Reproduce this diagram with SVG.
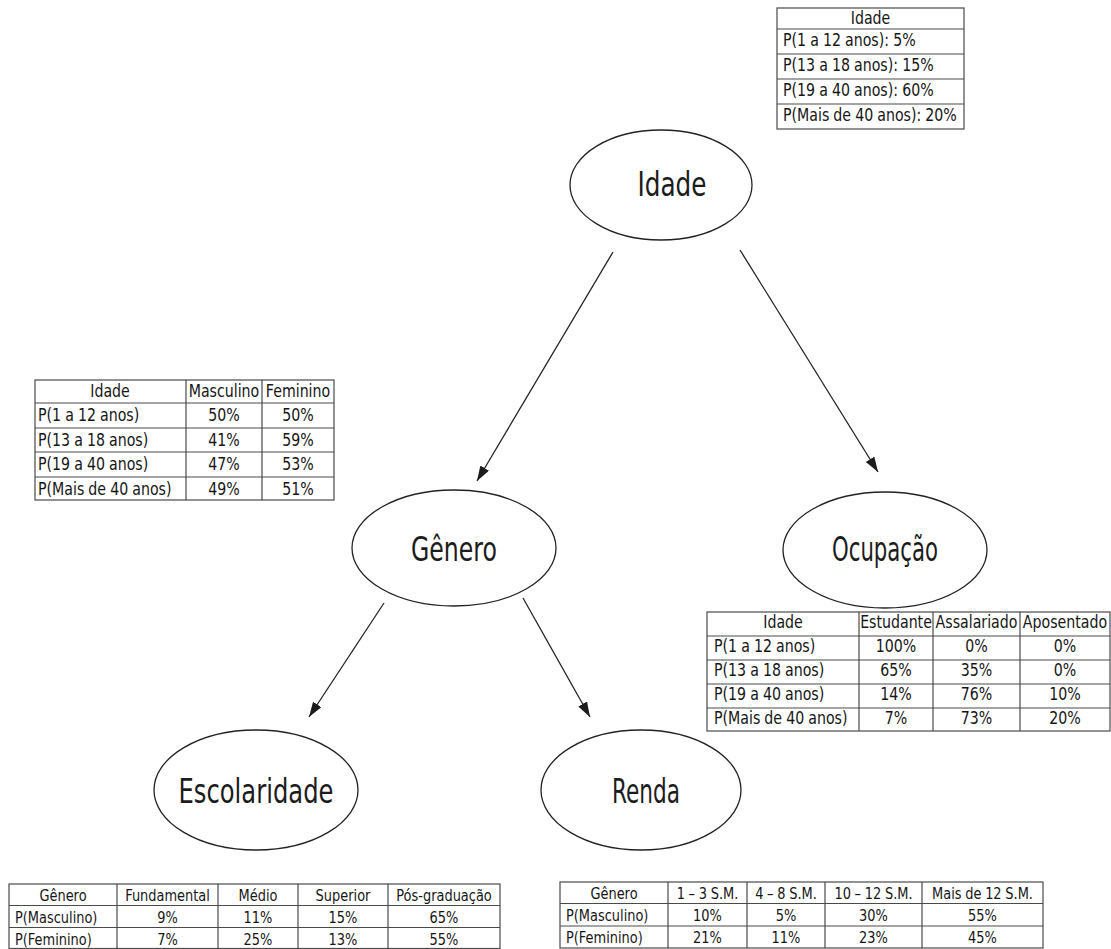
<svg xmlns="http://www.w3.org/2000/svg" width="1111" height="949" viewBox="0 0 1111 949">
  <style>
    .node ellipse { fill: #ffffff; stroke: #222222; stroke-width: 1.3; }
    .label { font-family: "DejaVu Sans", "Liberation Sans", sans-serif; font-size: 33px; fill: #1c1c1c; text-anchor: middle; }
    .tbl rect { fill: #ffffff; stroke: #4a4a4a; stroke-width: 1.2; }
    .tbl line { stroke: #4a4a4a; stroke-width: 1.2; }
    .tbl text { font-family: "DejaVu Sans", "Liberation Sans", sans-serif; font-size: 17.5px; word-spacing: -0.5px; fill: #161616; }
    .tbl.sm text { font-size: 16px; }
    .tbl .c { text-anchor: middle; }
    .edges line { stroke: #222222; stroke-width: 1.3; marker-end: url(#arrow); }
  </style>
  <defs>
    <marker id="arrow" markerUnits="userSpaceOnUse" markerWidth="16" markerHeight="11" refX="15" refY="5" orient="auto">
      <path d="M0,0 L15,5 L0,10 z" fill="#1c1c1c"/>
    </marker>
  </defs>

  <rect width="1111" height="949" fill="#ffffff"/>

  <!-- connectors -->
  <g id="edges" class="edges">
    <line x1="613" y1="252" x2="477" y2="481"/>
    <line x1="740" y1="250" x2="878" y2="472"/>
    <line x1="384" y1="603" x2="309" y2="717"/>
    <line x1="523" y1="598" x2="590" y2="717"/>
  </g>

  <!-- nodes -->
  <g id="node-idade" class="node">
    <ellipse cx="661" cy="185" rx="91" ry="55"/>
    <text class="label" x="672" y="196" textLength="69" lengthAdjust="spacingAndGlyphs">Idade</text>
  </g>
  <g id="node-genero" class="node">
    <ellipse cx="454" cy="548" rx="102" ry="58"/>
    <text class="label" x="454" y="561" textLength="86" lengthAdjust="spacingAndGlyphs">Gênero</text>
  </g>
  <g id="node-ocupacao" class="node">
    <ellipse cx="885" cy="550" rx="102" ry="58"/>
    <text class="label" x="885" y="561" textLength="106" lengthAdjust="spacingAndGlyphs">Ocupação</text>
  </g>
  <g id="node-escolaridade" class="node">
    <ellipse cx="256" cy="790" rx="102" ry="60"/>
    <text class="label" x="256" y="803" textLength="155" lengthAdjust="spacingAndGlyphs">Escolaridade</text>
  </g>
  <g id="node-renda" class="node">
    <ellipse cx="641" cy="790" rx="100" ry="60"/>
    <text class="label" x="646" y="803" textLength="68" lengthAdjust="spacingAndGlyphs">Renda</text>
  </g>

  <!-- probability table: Idade -->
  <g id="table-idade" class="tbl">
    <rect x="777" y="8" width="187" height="121"/>
    <line x1="777" y1="29" x2="964" y2="29"/>
    <line x1="777" y1="54" x2="964" y2="54"/>
    <line x1="777" y1="79" x2="964" y2="79"/>
    <line x1="777" y1="104" x2="964" y2="104"/>
    <text class="c" transform="translate(870.5 24) scale(0.81 1)">Idade</text>
    <text transform="translate(783 46) scale(0.81 1)">P(1 a 12 anos): 5%</text>
    <text transform="translate(783 71) scale(0.81 1)">P(13 a 18 anos): 15%</text>
    <text transform="translate(783 96) scale(0.81 1)">P(19 a 40 anos): 60%</text>
    <text transform="translate(783 121) scale(0.81 1)">P(Mais de 40 anos): 20%</text>
  </g>

  <!-- probability table: Gênero given Idade -->
  <g id="table-genero" class="tbl">
    <rect x="35" y="380" width="299" height="120"/>
    <line x1="35" y1="403" x2="334" y2="403"/>
    <line x1="35" y1="428" x2="334" y2="428"/>
    <line x1="35" y1="452" x2="334" y2="452"/>
    <line x1="35" y1="477" x2="334" y2="477"/>
    <line x1="186" y1="380" x2="186" y2="500"/>
    <line x1="262" y1="380" x2="262" y2="500"/>
    <text class="c" transform="translate(110 397) scale(0.81 1)">Idade</text>
    <text class="c" transform="translate(224 397) scale(0.81 1)">Masculino</text>
    <text class="c" transform="translate(298 397) scale(0.81 1)">Feminino</text>
    <text transform="translate(38 421) scale(0.81 1)">P(1 a 12 anos)</text>
    <text class="c" transform="translate(224 421) scale(0.81 1)">50%</text>
    <text class="c" transform="translate(298 421) scale(0.81 1)">50%</text>
    <text transform="translate(38 446) scale(0.81 1)">P(13 a 18 anos)</text>
    <text class="c" transform="translate(224 446) scale(0.81 1)">41%</text>
    <text class="c" transform="translate(298 446) scale(0.81 1)">59%</text>
    <text transform="translate(38 470) scale(0.81 1)">P(19 a 40 anos)</text>
    <text class="c" transform="translate(224 470) scale(0.81 1)">47%</text>
    <text class="c" transform="translate(298 470) scale(0.81 1)">53%</text>
    <text transform="translate(38 495) scale(0.81 1)">P(Mais de 40 anos)</text>
    <text class="c" transform="translate(224 495) scale(0.81 1)">49%</text>
    <text class="c" transform="translate(298 495) scale(0.81 1)">51%</text>
  </g>

  <!-- probability table: Ocupação given Idade -->
  <g id="table-ocupacao" class="tbl">
    <rect x="707" y="612" width="403" height="119"/>
    <line x1="707" y1="636" x2="1110" y2="636"/>
    <line x1="707" y1="660" x2="1110" y2="660"/>
    <line x1="707" y1="684" x2="1110" y2="684"/>
    <line x1="707" y1="708" x2="1110" y2="708"/>
    <line x1="859" y1="612" x2="859" y2="731"/>
    <line x1="933" y1="612" x2="933" y2="731"/>
    <line x1="1020" y1="612" x2="1020" y2="731"/>
    <text class="c" transform="translate(783 628) scale(0.81 1)">Idade</text>
    <text class="c" transform="translate(896 628) scale(0.81 1)">Estudante</text>
    <text class="c" transform="translate(976.5 628) scale(0.81 1)">Assalariado</text>
    <text class="c" transform="translate(1065 628) scale(0.81 1)">Aposentado</text>
    <text transform="translate(714 652) scale(0.81 1)">P(1 a 12 anos)</text>
    <text class="c" transform="translate(896 652) scale(0.81 1)">100%</text>
    <text class="c" transform="translate(976.5 652) scale(0.81 1)">0%</text>
    <text class="c" transform="translate(1065 652) scale(0.81 1)">0%</text>
    <text transform="translate(714 676) scale(0.81 1)">P(13 a 18 anos)</text>
    <text class="c" transform="translate(896 676) scale(0.81 1)">65%</text>
    <text class="c" transform="translate(976.5 676) scale(0.81 1)">35%</text>
    <text class="c" transform="translate(1065 676) scale(0.81 1)">0%</text>
    <text transform="translate(714 700) scale(0.81 1)">P(19 a 40 anos)</text>
    <text class="c" transform="translate(896 700) scale(0.81 1)">14%</text>
    <text class="c" transform="translate(976.5 700) scale(0.81 1)">76%</text>
    <text class="c" transform="translate(1065 700) scale(0.81 1)">10%</text>
    <text transform="translate(714 724) scale(0.81 1)">P(Mais de 40 anos)</text>
    <text class="c" transform="translate(896 724) scale(0.81 1)">7%</text>
    <text class="c" transform="translate(976.5 724) scale(0.81 1)">73%</text>
    <text class="c" transform="translate(1065 724) scale(0.81 1)">20%</text>
  </g>

  <!-- probability table: Escolaridade given Gênero -->
  <g id="table-escolaridade" class="tbl sm">
    <rect x="9" y="884" width="491" height="64.5"/>
    <line x1="9" y1="905.5" x2="500" y2="905.5"/>
    <line x1="9" y1="927.5" x2="500" y2="927.5"/>
    <line x1="117" y1="884" x2="117" y2="948.5"/>
    <line x1="218" y1="884" x2="218" y2="948.5"/>
    <line x1="298" y1="884" x2="298" y2="948.5"/>
    <line x1="388" y1="884" x2="388" y2="948.5"/>
    <text class="c" transform="translate(63 901) scale(0.81 1)">Gênero</text>
    <text class="c" transform="translate(167.5 901) scale(0.81 1)">Fundamental</text>
    <text class="c" transform="translate(258 901) scale(0.81 1)">Médio</text>
    <text class="c" transform="translate(343 901) scale(0.81 1)">Superior</text>
    <text class="c" transform="translate(444 901) scale(0.81 1)">Pós-graduação</text>
    <text transform="translate(15 923) scale(0.81 1)">P(Masculino)</text>
    <text class="c" transform="translate(167.5 923) scale(0.81 1)">9%</text>
    <text class="c" transform="translate(258 923) scale(0.81 1)">11%</text>
    <text class="c" transform="translate(343 923) scale(0.81 1)">15%</text>
    <text class="c" transform="translate(444 923) scale(0.81 1)">65%</text>
    <text transform="translate(15 945) scale(0.81 1)">P(Feminino)</text>
    <text class="c" transform="translate(167.5 945) scale(0.81 1)">7%</text>
    <text class="c" transform="translate(258 945) scale(0.81 1)">25%</text>
    <text class="c" transform="translate(343 945) scale(0.81 1)">13%</text>
    <text class="c" transform="translate(444 945) scale(0.81 1)">55%</text>
  </g>

  <!-- probability table: Renda given Gênero -->
  <g id="table-renda" class="tbl sm">
    <rect x="560" y="882" width="483" height="66"/>
    <line x1="560" y1="903.5" x2="1043" y2="903.5"/>
    <line x1="560" y1="926" x2="1043" y2="926"/>
    <line x1="668" y1="882" x2="668" y2="948"/>
    <line x1="747" y1="882" x2="747" y2="948"/>
    <line x1="825" y1="882" x2="825" y2="948"/>
    <line x1="922" y1="882" x2="922" y2="948"/>
    <text class="c" transform="translate(614 899) scale(0.81 1)">Gênero</text>
    <text class="c" transform="translate(707.5 899) scale(0.81 1)">1 – 3 S.M.</text>
    <text class="c" transform="translate(786 899) scale(0.81 1)">4 – 8 S.M.</text>
    <text class="c" transform="translate(873.5 899) scale(0.81 1)">10 – 12 S.M.</text>
    <text class="c" transform="translate(982.5 899) scale(0.81 1)">Mais de 12 S.M.</text>
    <text transform="translate(566 921) scale(0.81 1)">P(Masculino)</text>
    <text class="c" transform="translate(707.5 921) scale(0.81 1)">10%</text>
    <text class="c" transform="translate(786 921) scale(0.81 1)">5%</text>
    <text class="c" transform="translate(873.5 921) scale(0.81 1)">30%</text>
    <text class="c" transform="translate(982.5 921) scale(0.81 1)">55%</text>
    <text transform="translate(566 943) scale(0.81 1)">P(Feminino)</text>
    <text class="c" transform="translate(707.5 943) scale(0.81 1)">21%</text>
    <text class="c" transform="translate(786 943) scale(0.81 1)">11%</text>
    <text class="c" transform="translate(873.5 943) scale(0.81 1)">23%</text>
    <text class="c" transform="translate(982.5 943) scale(0.81 1)">45%</text>
  </g>
</svg>
